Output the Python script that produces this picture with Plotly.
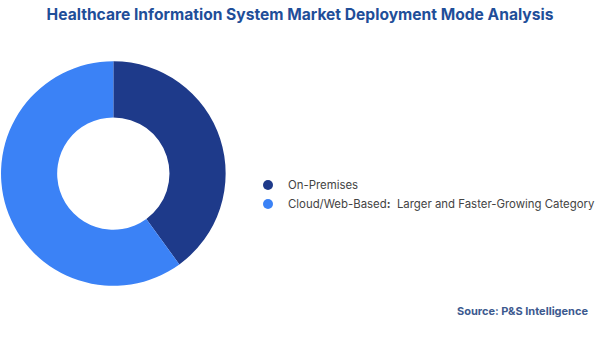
import plotly.graph_objects as go

categories = ["On-Premises", "Cloud/Web-Based"]
legend_labels = ["On-Premises", "Cloud/Web-Based<b>:</b>  Larger and Faster-Growing Category"]
shares = [40, 60]
colors = ["#1e3a8a", "#3b82f6"]

fig = go.Figure()
fig.add_trace(go.Pie(
    labels=categories, values=shares, hole=0.5, sort=False, direction="clockwise",
    rotation=0, marker=dict(colors=colors, line=dict(width=0)),
    textinfo="none", hoverinfo="label+percent", showlegend=False,
    domain=dict(x=[0.0017, 0.3767], y=[0.151, 0.819]),
))
for lab, c in zip(legend_labels, colors):
    fig.add_trace(go.Scatter(x=[None], y=[None], mode="markers", name=lab,
                             marker=dict(color=c, size=10, symbol="circle")))

fig.update_layout(
    width=600, height=337, margin=dict(l=0, r=0, t=0, b=0),
    paper_bgcolor="white", plot_bgcolor="white",
    font=dict(family="Inter, sans-serif"),
    title=dict(text="<b>Healthcare Information System Market Deployment Mode Analysis</b>",
               x=0.5, xanchor="center", y=0.957, yanchor="middle",
               font=dict(size=15.6, color="#1f4e99")),
    xaxis=dict(visible=False), yaxis=dict(visible=False),
    legend=dict(x=0.414, y=0.423, xanchor="left", yanchor="middle",
                font=dict(size=11.4, color="#444444"), itemwidth=30,
                tracegroupgap=0, bgcolor="rgba(0,0,0,0)"),
    annotations=[dict(text="<b>Source: P&S Intelligence</b>", x=0.985, y=0.077,
                      xref="paper", yref="paper", xanchor="right", yanchor="middle",
                      showarrow=False, font=dict(size=11, color="#3d5a8f"))],
)
fig.write_html("out.html")
